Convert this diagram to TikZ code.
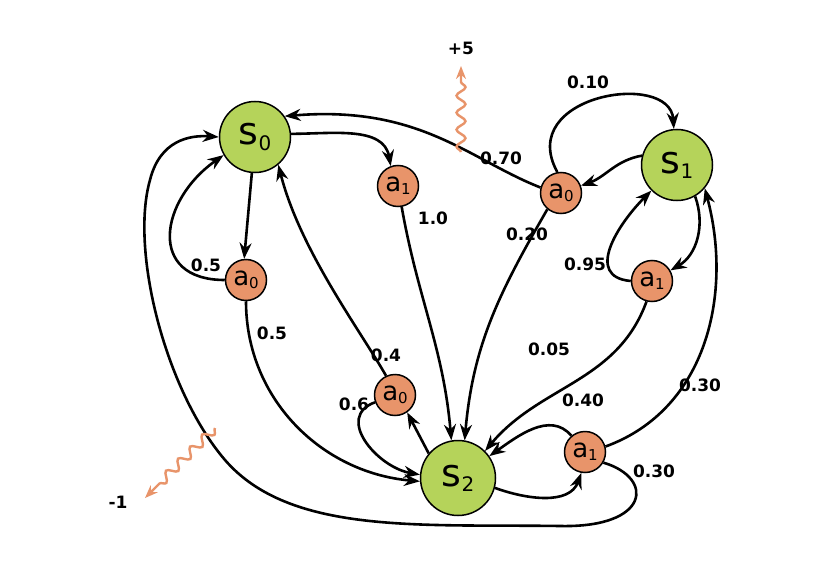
\documentclass[tikz,border=0pt]{standalone}
\usepackage{fontspec}
\setmainfont{DejaVu Sans}
\usetikzlibrary{arrows.meta,decorations.pathmorphing}
\definecolor{sgreen}{HTML}{B5D35A}
\definecolor{aorange}{HTML}{E8946A}
\newcommand{\mysubs}[1]{\raisebox{-0.25ex}{\fontsize{20}{20}\selectfont #1}}
\newcommand{\mysuba}[1]{\raisebox{-0.2ex}{\fontsize{15}{15}\selectfont #1}}
\begin{document}
\begin{tikzpicture}[x=1pt,y=-1pt,
  st/.style={circle,draw=black,line width=1.5pt,fill=sgreen,minimum size=71pt,inner sep=0pt,font=\fontsize{38}{38}\selectfont},
  ac/.style={circle,draw=black,line width=1.5pt,fill=aorange,minimum size=41pt,inner sep=0pt,font=\fontsize{26}{26}\selectfont},
  e/.style={line width=2.6pt,-{Stealth[length=16pt,width=12pt]}},
  lb/.style={font=\fontsize{17}{17}\selectfont\bfseries},
  wig/.style={aorange,line width=2.4pt,decorate,decoration={snake,amplitude=4.5pt,segment length=17pt,post length=14pt},-{Stealth[length=13pt,width=10pt]}}]
\useasboundingbox (0,0) rectangle (840,583);
\node[st] (S0) at (255,137) {s\mysubs{0}};
\node[st] (S1) at (677,165) {s\mysubs{1}};
\node[st,minimum size=75pt] (S2) at (458,478) {s\mysubs{2}};
\node[ac] (a1a) at (398,186) {a\mysuba{1}};
\node[ac] (a0a) at (246,280) {a\mysuba{0}};
\node[ac] (a0b) at (561,193) {a\mysuba{0}};
\node[ac] (a1b) at (652,281) {a\mysuba{1}};
\node[ac] (a0c) at (395,395) {a\mysuba{0}};
\node[ac] (a1c) at (585,452) {a\mysuba{1}};
% S0
\draw[e] (S0.5) to[out=0,in=100] (a1a.110);
\draw[e] (a1a.-80) to[out=-80,in=95] (S2.100);
\draw[e] (S0.-95) -- (a0a.95);
\draw[e] (a0a.180) to[out=180,in=215,looseness=1.6] (S0.210);
\draw[e] (a0a.-90) to[out=-90,in=175] (S2.185);
% S1
\draw[e] (S1.165) to[out=190,in=20] (a0b.20);
\draw[e] (a0b.165) .. controls (470,160) and (420,105) .. (S0.35);
\draw[e] (a0b.100) .. controls (515,95) and (670,70) .. (S1.95);
\draw[e] (a0b.-130) to[out=-120,in=85] (S2.80);
\draw[e] (S1.-60) to[out=-70,in=30] (a1b.30);
\draw[e] (a1b.180) to[out=175,in=225,looseness=1.3] (S1.225);
\draw[e] (a1b.-105) to[out=-110,in=50] (S2.45);
% S2
\draw[e] (S2.140) -- (a0c.-55);
\draw[e] (a0c.115) .. controls (360,330) and (300,250) .. (S0.-50);
\draw[e] (a0c.200) to[out=200,in=170,looseness=1.3] (S2.175);
\draw[e] (S2.-15) to[out=-20,in=-110] (a1c.-100);
\draw[e] (a1c.130) to[out=130,in=35] (S2.35);
\draw[e] (a1c.15) to[out=20,in=-75] (S1.-40);
\draw[e] (a1c.-30) .. controls (655,478) and (650,528) .. (560,526)
  .. controls (420,524) and (290,535) .. (225,460)
  .. controls (165,390) and (130,250) .. (150,180)
  .. controls (160,140) and (190,135) .. (S0.180);
% rewards
\coordinate (r5) at (461,152);
\coordinate (r5e) at (461,66);
\draw[wig] (r5) -- (r5e);
\node[lb] (p5) at (461,48) {+5};
\coordinate (r1) at (215,428);
\coordinate (r1e) at (145,498);
\draw[wig] (r1) -- (r1e);
\node[lb] (m1) at (118,502) {-1};
% labels
\node[lb] (l1) at (433,218) {1.0};
\node[lb] (l2) at (206,265) {0.5};
\node[lb] (l3) at (272,333) {0.5};
\node[lb] (l4) at (501,158) {0.70};
\node[lb] (l5) at (588,82) {0.10};
\node[lb] (l6) at (527,234) {0.20};
\node[lb] (l7) at (585,264) {0.95};
\node[lb] (l8) at (549,349) {0.05};
\node[lb] (l9) at (386,355) {0.4};
\node[lb] (l10) at (354,404) {0.6};
\node[lb] (l11) at (583,400) {0.40};
\node[lb] (l12) at (700,385) {0.30};
\node[lb] (l13) at (654,471) {0.30};
\end{tikzpicture}
\end{document}
